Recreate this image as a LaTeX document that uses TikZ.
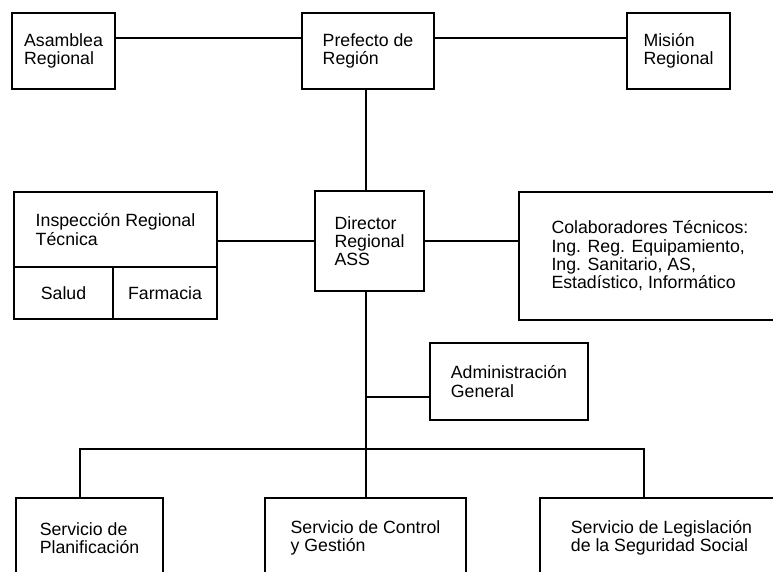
\documentclass[tikz,border=0pt]{standalone}
\usepackage{fontspec}
\setmainfont{Liberation Sans}
\tikzset{
  orgbox/.style={draw, line width=0.045cm, rectangle, align=left, inner sep=0pt},
  orgline/.style={line width=0.045cm}
}
\begin{document}
\begin{tikzpicture}
                        \useasboundingbox (0,0) rectangle (19.325000,14.300000);
                        \clip (0,0) rectangle (19.325000,14.300000);
                        {\fontsize{12.6pt}{13pt}\selectfont

                        % Drawing boxes of the top row
                        \node [orgbox, minimum width=2.575cm, minimum height=1.900cm] (asamblea) at (1.587500,13.025000) {Asamblea\\Regional};%
                        \node [orgbox, minimum width=3.300cm, minimum height=1.900cm] (prefecto) at (9.200000,13.025000) {Prefecto de\\Región};%
                        \node [orgbox, minimum width=2.575cm, minimum height=1.900cm] (mision) at (16.962500,13.025000) {Misión\\Regional};%

                        % Drawing boxes of the middle row
                        \node [orgbox, minimum width=5.075cm, minimum height=1.875cm] (inspeccion) at (2.887500,8.562500) {Inspección Regional\\Técnica};%
                        \node [orgbox, minimum width=2.475cm, minimum height=1.300cm] (salud) at (1.587500,6.975000) {Salud};%
                        \node [orgbox, minimum width=2.600cm, minimum height=1.300cm] (farmacia) at (4.125000,6.975000) {Farmacia};%
                        \node [orgbox, minimum width=2.725cm, minimum height=2.500cm] (director) at (9.237500,8.275000) {Director\\Regional\\ASS};%
                        \node [orgbox, minimum width=6.550cm, minimum height=3.200cm] (colaboradores) at (16.250000,7.900000) {Colaboradores Técnicos:\\Ing. Reg. Equipamiento,\\Ing. Sanitario, AS,\\Estadístico, Informático};%

                        % Drawing box Administracion
                        \node [orgbox, minimum width=3.950cm, minimum height=1.925cm] (administracion) at (12.725000,4.762500) {Administración\\General};%

                        % Drawing boxes of the bottom row
                        \node [orgbox, minimum width=3.675cm, minimum height=2.000cm] (planificacion) at (2.237500,0.850000) {Servicio de\\Planificación};%
                        \node [orgbox, minimum width=5.025cm, minimum height=2.000cm] (control) at (9.137500,0.850000) {Servicio de Control\\y Gestión};%
                        \node [orgbox, minimum width=6.075cm, minimum height=2.000cm] (legislacion) at (16.537500,0.850000) {Servicio de Legislación\\de la Seguridad Social};%
                        }

                        % Points where the lines meet
                        \coordinate (topline) at (0.000000,13.350000);%
                        \coordinate (spine) at (9.150000,0.000000);%
                        \coordinate (adminjoin) at (9.150000,4.375000);%
                        \coordinate (busL) at (2.000000,3.075000);%
                        \coordinate (busM) at (9.150000,3.075000);%
                        \coordinate (busR) at (16.100000,3.075000);%

                        % Drawing line Asamblea Prefecto Mision
                        \draw [orgline] (asamblea.east |- topline) -- (prefecto.west |- topline);%
                        \draw [orgline] (prefecto.east |- topline) -- (mision.west |- topline);%

                        % Drawing line Prefecto Director
                        \draw [orgline] (prefecto.south -| spine) -- (director.north -| spine);%

                        % Drawing line Inspeccion Director Colaboradores
                        \draw [orgline] (inspeccion.east |- director.west) -- (director.west);%
                        \draw [orgline] (director.east) -- (colaboradores.west |- director.east);%

                        % Drawing line Director down to the services
                        \draw [orgline] (director.south -| spine) -- (busM) -- (control.north -| spine);%
                        \draw [orgline] (adminjoin) -- (administracion.west |- adminjoin);%

                        % Drawing the bus of the services
                        \draw [orgline] (planificacion.north -| busL) -- (busL) -- (busR) -- (legislacion.north -| busR);%
                    \end{tikzpicture}
\end{document}
